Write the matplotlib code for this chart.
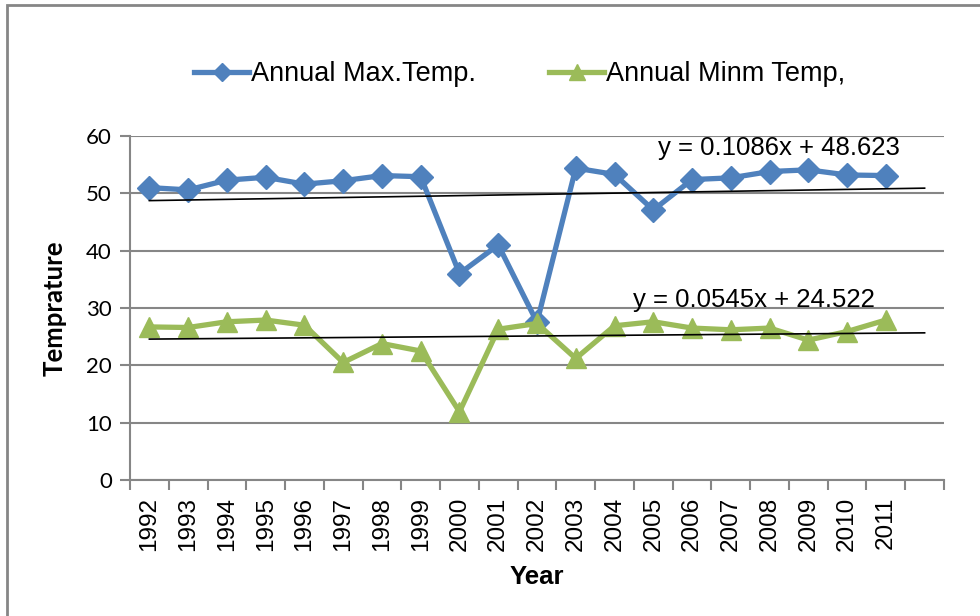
#!/usr/bin/env python3
"""
Annual max / min temperature 1992-2011 with linear trendlines (Excel-style chart).
"""

import numpy as np
import matplotlib
matplotlib.use("Agg")
import matplotlib.pyplot as plt
from matplotlib.patches import Rectangle

# === Data ===
years = ["1992", "1993", "1994", "1995", "1996", "1997", "1998", "1999", "2000", "2001",
         "2002", "2003", "2004", "2005", "2006", "2007", "2008", "2009", "2010", "2011"]
max_temp = [51.0, 50.6, 52.3, 52.8, 51.6, 52.2, 53.1, 52.9, 36.0, 41.0,
            27.5, 54.4, 53.3, 47.1, 52.4, 52.7, 53.8, 54.1, 53.2, 53.1]
min_temp = [26.7, 26.6, 27.6, 27.9, 27.0, 20.5, 23.8, 22.5, 11.9, 26.3,
            27.3, 21.2, 26.9, 27.6, 26.5, 26.2, 26.5, 24.4, 25.9, 27.9]
# trendline coefficients as printed on the chart
max_fit = (0.1086, 48.623)
min_fit = (0.0545, 24.522)
FORECAST = 1            # trendline extended one period forward

BLUE = "#4F81BD"
GREEN = "#9BBB59"
GRAY = "#868686"
SANS = ["Liberation Sans", "DejaVu Sans"]
ROUND = ["Lato", "DejaVu Sans"]
# ====================


def main():
    fig = plt.figure(figsize=(9.8, 6.16), dpi=100)
    ax = fig.add_axes([130 / 980, 1 - 480 / 616, (944 - 130) / 980, (480 - 136) / 616])

    x = np.arange(1, len(years) + 1)
    n_cat = len(years) + FORECAST

    ax.plot(x, max_temp, color=BLUE, lw=3.8, marker="D", ms=12,
            label="Annual Max.Temp.", zorder=3)
    ax.plot(x, min_temp, color=GREEN, lw=3.8, marker="^", ms=15,
            label="Annual Minm Temp,", zorder=4)

    xt = np.arange(1, n_cat + 1)
    for (m, b) in (max_fit, min_fit):
        ax.plot(xt, m * xt + b, color="black", lw=1.2, zorder=5)

    ax.text(20.35, 56.7, "y = 0.1086x + 48.623", ha="right", va="baseline",
            fontsize=18.5, family=SANS)
    ax.text(19.72, 30.2, "y = 0.0545x + 24.522", ha="right", va="baseline",
            fontsize=18.5, family=SANS)

    # --- axes styling ---
    ax.set_xlim(0.5, n_cat + 0.5)
    ax.set_ylim(0, 60)
    ax.set_yticks(range(0, 61, 10))
    ax.yaxis.grid(True, color=GRAY, lw=1.5)
    ax.set_axisbelow(True)
    for s in ("top", "right"):
        ax.spines[s].set_visible(False)
    for s in ("left", "bottom"):
        ax.spines[s].set_color(GRAY)
        ax.spines[s].set_linewidth(1.5)

    ax.set_xticks(np.arange(1, n_cat + 1))
    ax.set_xticklabels(years + [""] * FORECAST, rotation=90, fontsize=17.5, family=SANS)
    ax.set_xticks(np.arange(0.5, n_cat + 1), minor=True)
    ax.tick_params(axis="x", which="major", length=0, pad=12)
    ax.tick_params(axis="x", which="minor", length=7, width=1.5, color=GRAY)
    ax.tick_params(axis="y", length=7, width=1.5, color=GRAY, labelsize=16, pad=6)
    for lab in ax.get_yticklabels():
        lab.set_family(ROUND)

    ax.set_ylabel("Temprature", fontsize=18.5, fontweight="bold", family=ROUND, labelpad=14)
    ax.set_xlabel("Year", fontsize=18.5, fontweight="bold", family=SANS, labelpad=10)

    ax.legend(loc="center", bbox_to_anchor=(520 / 980, 1 - 74 / 616), bbox_transform=fig.transFigure,
              ncol=2, frameon=False, handlelength=2.0, handletextpad=0.1, columnspacing=2.7,
              markerscale=0.75, prop={"family": SANS, "size": 19.5})

    # outer chart border (left/top visible only)
    fig.patches.append(Rectangle((7 / 980, -0.1), 1.1, 1 - 5 / 616 + 0.1, fill=False,
                                 edgecolor=GRAY, lw=2, transform=fig.transFigure))

    fig.savefig("out.png", dpi=100)


if __name__ == "__main__":
    main()
